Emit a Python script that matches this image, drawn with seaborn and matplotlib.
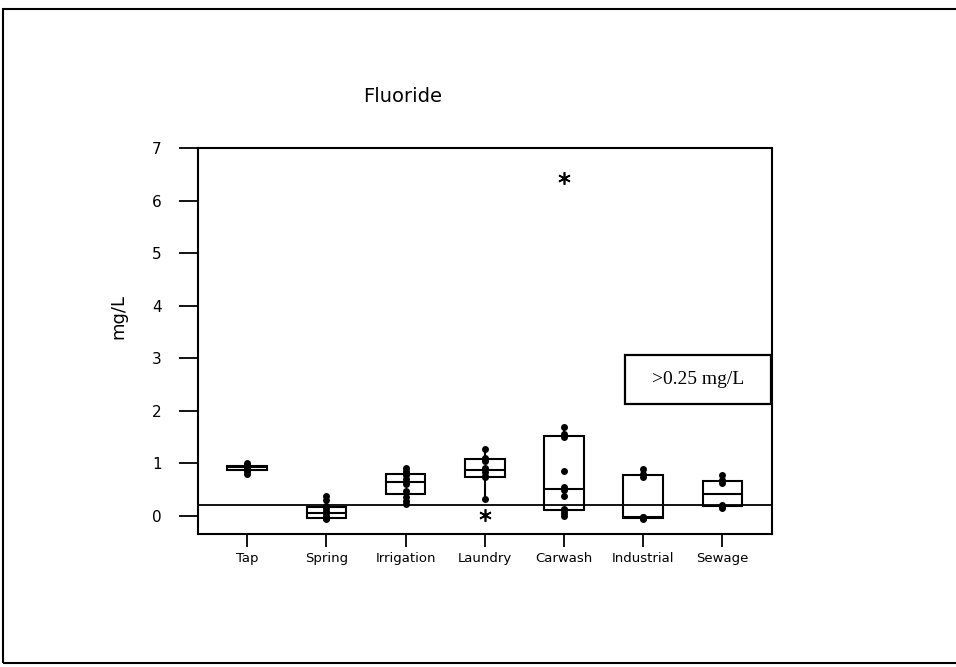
import numpy as np
import pandas as pd
import matplotlib
matplotlib.use("Agg")
import matplotlib.pyplot as plt
from matplotlib.patches import Rectangle
import seaborn as sns

# ---- data (mg/L fluoride) ----
categories = ["Tap", "Spring", "Irrigation", "Laundry", "Carwash", "Industrial", "Sewage"]
tick_labels = ["Tap", "Spring", "Irrigation", "Laundry", "Carwash", "Industrial", "Sewage"]
tap = [0.80, 0.85, 0.86, 0.90, 0.92, 0.93, 0.95, 0.97, 1.00]
spring = [-0.06, -0.05, -0.05, -0.04, 0.00, 0.05, 0.08, 0.15, 0.19, 0.30, 0.38]
irrigation = [0.22, 0.28, 0.35, 0.47, 0.60, 0.64, 0.70, 0.78, 0.81, 0.85, 0.90]
laundry = [0.01, 0.32, 0.74, 0.76, 0.84, 0.90, 1.05, 1.08, 1.10, 1.26]
carwash = [0.00, 0.05, 0.10, 0.12, 0.38, 0.48, 0.55, 0.85, 1.50, 1.55, 1.68, 6.43]
industrial = [-0.06, -0.04, -0.03, -0.02, 0.74, 0.80, 0.88]
sewage = [0.15, 0.18, 0.20, 0.63, 0.68, 0.78]
limit_value = 0.2
title = "Fluoride"
ylabel = "mg/L"
legend_text = ">0.25 mg/L"

series = [tap, spring, irrigation, laundry, carwash, industrial, sewage]
df = pd.DataFrame({
    "source": np.concatenate([[c] * len(v) for c, v in zip(categories, series)]),
    "value": np.concatenate(series),
})

# points that are not outliers (1.5 IQR rule) are drawn as dots
def inlier_mask(g):
    q1, q3 = np.percentile(g, [25, 75])
    iqr = q3 - q1
    return (g >= q1 - 1.5 * iqr) & (g <= q3 + 1.5 * iqr)

df["inlier"] = df.groupby("source")["value"].transform(inlier_mask).astype(bool)

sns.set_style("white")
plt.rcParams["font.family"] = ["DejaVu Sans"]
plt.rcParams["text.color"] = "black"
plt.rcParams["xtick.color"] = "black"
plt.rcParams["ytick.color"] = "black"
plt.rcParams["axes.labelcolor"] = "black"

fig = plt.figure(figsize=(9.56, 6.67), dpi=100)
ax = fig.add_axes([0.2068, 0.1994, 0.6007, 0.5787])

sns.boxplot(
    data=df, x="source", y="value", order=categories, ax=ax,
    width=0.5, color="white", linecolor="black", linewidth=1.5,
    whis=1.5, capprops={"visible": False},
    flierprops=dict(marker=(6, 2, 0), markersize=9, markeredgewidth=1.2,
                    markeredgecolor="black", markerfacecolor="black"),
    zorder=2,
)
sns.stripplot(
    data=df[df["inlier"]], x="source", y="value", order=categories, ax=ax,
    jitter=False, color="black", size=5, marker="o", zorder=3,
)

ax.axhline(limit_value, color="black", linewidth=1.3, zorder=4)

ax.set_xlim(-0.626, 6.626)
ax.set_ylim(-0.349, 7.0)
ax.set_yticks(range(0, 8))
ax.set_xticks(range(len(categories)))
ax.set_xticklabels(tick_labels, fontsize=9.5)
ax.tick_params(axis="y", labelsize=11, length=14, width=1.3, pad=12, direction="out",
               left=True, colors="black")
ax.tick_params(axis="x", length=9, width=1.3, pad=4, direction="out", bottom=True,
               colors="black")
ax.set_xlabel("")
ax.set_ylabel("")
for s in ax.spines.values():
    s.set_visible(True)
    s.set_color("black")
    s.set_linewidth(1.5)

fig.text(403 / 956, 1 - 97 / 667, title, ha="center", va="center", fontsize=14, color="black")
fig.text(118 / 956, 1 - 317 / 667, ylabel, ha="center", va="center", rotation=90,
         fontsize=13, color="black")

# legend-like note box
ax.add_patch(Rectangle((0.744, 0.3368), 0.254, 0.1269, transform=ax.transAxes,
                       facecolor="white", edgecolor="black", linewidth=1.6, zorder=6))
ax.text(0.871, 0.4003, legend_text, transform=ax.transAxes, ha="center", va="center",
        fontsize=14, family=["Liberation Serif", "DejaVu Serif"], color="black", zorder=7)

# outer border of the picture
fig.patches.append(Rectangle((3 / 956, 1 - 663 / 667), 1.0, (663 - 9) / 667,
                             transform=fig.transFigure, facecolor="none",
                             edgecolor="black", linewidth=1.5))

fig.savefig("out.png", dpi=100)
